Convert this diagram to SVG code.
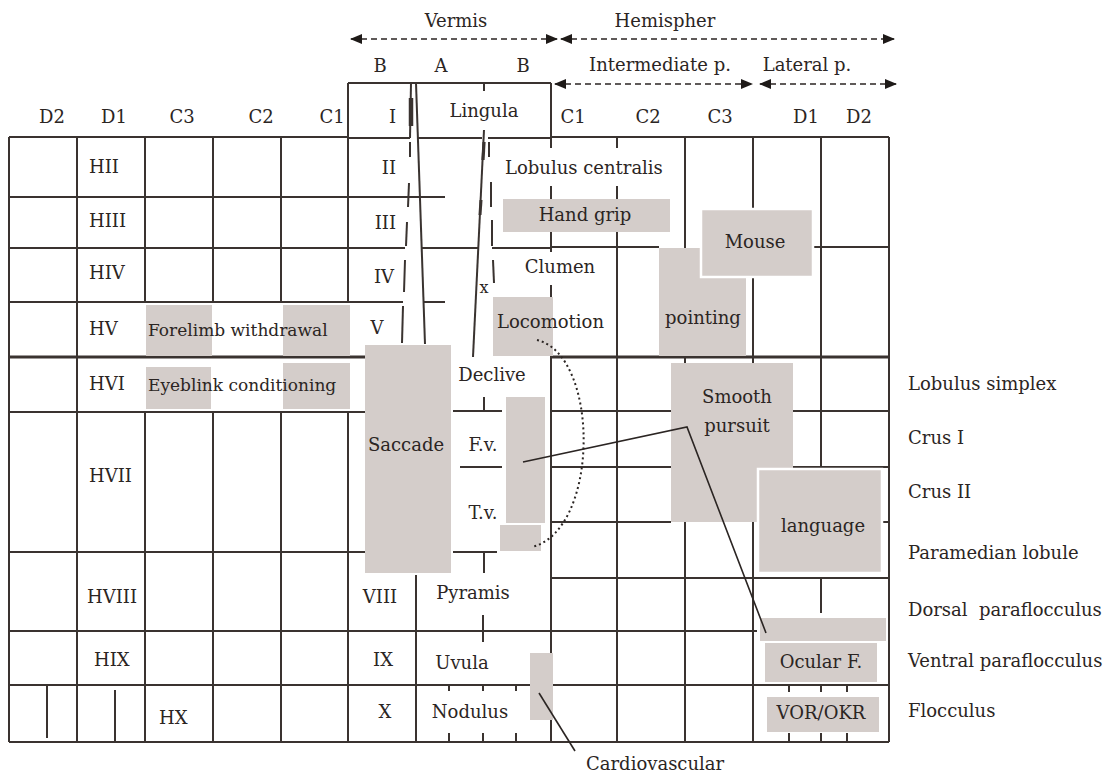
<svg xmlns="http://www.w3.org/2000/svg" width="1115" height="776" viewBox="0 0 1115 776">
<style>
text{font-family:"DejaVu Serif","Liberation Serif",serif;font-size:18px;fill:#2b2523}
.m{text-anchor:middle}
.e{text-anchor:end}
.s{font-size:17px}
.g line,.g polyline{stroke:#3a3330;stroke-width:2;fill:none}
.thick{stroke-width:3.2!important}
.box{fill:#d4cdca}
.wb{fill:#d4cdca;stroke:#fff;stroke-width:2.5}
.dash{stroke:#2b2523;stroke-width:1.6;stroke-dasharray:6 4;fill:none}
.con{stroke:#2b2523;stroke-width:1.6;fill:none}
</style>
<defs>
<marker id="ah" viewBox="0 0 12 10" refX="11" refY="5" markerWidth="12" markerHeight="10" markerUnits="userSpaceOnUse" orient="auto-start-reverse">
<path d="M0,0 L12,5 L0,10 z" fill="#1e1a18"/>
</marker>
</defs>
<rect width="1115" height="776" fill="#fff"/>

<g id="grid" class="g">
<!-- left hemisphere horizontals -->
<line x1="9" y1="137" x2="349" y2="137"/>
<line x1="9" y1="197" x2="445" y2="197"/>
<line x1="9" y1="248" x2="405" y2="248"/>
<line x1="421" y1="248" x2="478" y2="248"/>
<line x1="492" y1="248" x2="551" y2="248"/>
<line x1="9" y1="302" x2="403" y2="302"/>
<line x1="423" y1="302" x2="445" y2="302"/>
<line class="thick" x1="9" y1="357" x2="365" y2="357"/>
<line x1="9" y1="412" x2="365" y2="412"/>
<line x1="9" y1="552" x2="365" y2="552"/>
<line x1="9" y1="631" x2="757" y2="631"/>
<line x1="9" y1="685" x2="530" y2="685"/>
<line x1="9" y1="742" x2="889" y2="742"/>
<!-- left verticals -->
<line x1="9" y1="137" x2="9" y2="742"/>
<line x1="77" y1="137" x2="77" y2="742"/>
<line x1="145" y1="137" x2="145" y2="302"/>
<line x1="145" y1="412" x2="145" y2="742"/>
<line x1="213" y1="137" x2="213" y2="302"/>
<line x1="213" y1="412" x2="213" y2="742"/>
<line x1="281" y1="137" x2="281" y2="302"/>
<line x1="281" y1="412" x2="281" y2="742"/>
<line x1="47" y1="686" x2="47" y2="738"/>
<line x1="115" y1="690" x2="115" y2="742"/>
<!-- vermis -->
<line x1="348" y1="83" x2="551" y2="83"/>
<line x1="348" y1="83" x2="348" y2="303"/>
<line x1="348" y1="412" x2="348" y2="742"/>
<line x1="348" y1="138" x2="410" y2="138"/>
<line x1="417" y1="138" x2="482" y2="138"/>
<line x1="488" y1="138" x2="551" y2="138"/>
<line x1="484" y1="83" x2="484" y2="91"/>
<line x1="411" y1="83" x2="410" y2="138"/>
<line x1="411" y1="98" x2="411" y2="126" style="stroke-width:4.5"/>
<line x1="416" y1="83" x2="425" y2="344"/>
<line x1="410" y1="142" x2="410" y2="157"/>
<line x1="409" y1="183" x2="408" y2="207"/>
<line x1="407" y1="222" x2="406" y2="246"/>
<line x1="405" y1="260" x2="404" y2="292"/>
<line x1="403" y1="306" x2="402" y2="343"/>
<line x1="484" y1="130" x2="473" y2="357"/>
<line x1="484" y1="142" x2="483" y2="160" style="stroke-width:3.2"/>
<line x1="481" y1="200" x2="480" y2="215" style="stroke-width:3"/>
<line x1="489" y1="142" x2="489" y2="157"/>
<line x1="491" y1="182" x2="491" y2="207"/>
<line x1="492" y1="220" x2="492" y2="246"/>
<line x1="493" y1="260" x2="494" y2="283"/>
<line x1="453" y1="411" x2="502" y2="411"/>
<line x1="484" y1="397" x2="484" y2="411"/>
<line x1="460" y1="467" x2="502" y2="467"/>
<line x1="453" y1="552" x2="497" y2="552"/>
<line x1="484" y1="552" x2="484" y2="573"/>
<line x1="483" y1="615" x2="483" y2="642"/>
<line x1="416" y1="575" x2="416" y2="742"/>
<line x1="449" y1="685" x2="449" y2="691"/>
<line x1="483" y1="685" x2="483" y2="691"/>
<line x1="516" y1="685" x2="516" y2="691"/>
<line x1="449" y1="733" x2="449" y2="742"/>
<line x1="483" y1="733" x2="483" y2="742"/>
<line x1="516" y1="733" x2="516" y2="742"/>
<line x1="551" y1="83" x2="551" y2="148"/>
<line x1="551" y1="186" x2="551" y2="252"/>
<line x1="551" y1="285" x2="551" y2="742"/>
<!-- right part -->
<line x1="551" y1="137" x2="889" y2="137"/>
<line x1="551" y1="247" x2="659" y2="247"/>
<line x1="813" y1="247" x2="889" y2="247"/>
<line class="thick" x1="551" y1="357" x2="889" y2="357"/>
<line x1="551" y1="411" x2="671" y2="411"/>
<line x1="793" y1="411" x2="889" y2="411"/>
<line x1="551" y1="467" x2="671" y2="467"/>
<line x1="793" y1="467" x2="889" y2="467"/>
<line x1="551" y1="522" x2="671" y2="522"/>
<line x1="881" y1="522" x2="889" y2="522"/>
<line x1="551" y1="578" x2="889" y2="578"/>
<line x1="551" y1="685" x2="889" y2="685"/>
<line x1="617" y1="137" x2="617" y2="148"/>
<line x1="617" y1="186" x2="617" y2="742"/>
<line x1="685" y1="137" x2="685" y2="248"/>
<line x1="685" y1="357" x2="685" y2="742"/>
<line x1="753" y1="137" x2="753" y2="742"/>
<line x1="821" y1="137" x2="821" y2="470"/>
<line x1="821" y1="578" x2="821" y2="613"/>
<line x1="789" y1="685" x2="789" y2="692"/>
<line x1="821" y1="685" x2="821" y2="692"/>
<line x1="847" y1="685" x2="847" y2="692"/>
<line x1="789" y1="733" x2="789" y2="742"/>
<line x1="821" y1="733" x2="821" y2="742"/>
<line x1="847" y1="733" x2="847" y2="742"/>
<line x1="889" y1="137" x2="889" y2="742"/>
</g>

<g id="boxes">
<rect id="handgrip-box" class="box" x="503" y="199" width="167" height="33"/>
<rect id="pointing-box" class="box" x="659" y="248" width="87" height="108"/>
<rect id="mouse-box" class="wb" x="701" y="209" width="112" height="68"/>
<rect id="locomotion-box" class="box" x="493" y="297" width="60" height="59"/>
<rect class="box" x="146" y="305" width="66" height="51"/>
<rect class="box" x="283" y="305" width="67" height="51"/>
<rect class="box" x="146" y="367" width="65" height="42"/>
<rect class="box" x="283" y="363" width="67" height="46"/>
<rect id="saccade-box" class="box" x="365" y="345" width="86" height="228"/>
<rect id="fv-box" class="box" x="506" y="397" width="39" height="126"/>
<rect id="tv-box" class="box" x="500" y="525" width="41" height="26"/>
<rect id="pursuit-box" class="box" x="671" y="363" width="122" height="159"/>
<rect id="language-box" class="wb" x="758" y="469" width="124" height="104"/>
<rect id="dorsal-box" class="box" x="760" y="618" width="126" height="23"/>
<rect id="ocular-box" class="box" x="765" y="643" width="112" height="39"/>
<rect id="vor-box" class="box" x="767" y="697" width="112" height="35"/>
<rect id="cardio-box" class="box" x="530" y="653" width="23" height="67"/>
</g>

<g id="connectors">
<line class="dash" x1="351" y1="39" x2="557" y2="39" marker-start="url(#ah)" marker-end="url(#ah)"/>
<line class="dash" x1="561" y1="39" x2="894" y2="39" marker-start="url(#ah)" marker-end="url(#ah)"/>
<line class="dash" x1="555" y1="84" x2="752" y2="84" marker-start="url(#ah)" marker-end="url(#ah)"/>
<line class="dash" x1="760" y1="84" x2="896" y2="84" marker-start="url(#ah)" marker-end="url(#ah)"/>
<polyline class="con" points="523,462 687,427 766,633"/>
<line class="con" x1="539" y1="693" x2="575" y2="751"/>
<path d="M537,340 C600,355 600,530 532,547" stroke="#2b2523" stroke-width="2" stroke-dasharray="2 3" fill="none"/>
</g>

<g id="header">
<text class="m" x="456" y="27">Vermis</text>
<text class="m" x="665" y="27">Hemispher</text>
<text class="m" x="380" y="72">B</text>
<text class="m" x="441" y="72">A</text>
<text class="m" x="523" y="72">B</text>
<text class="m" x="660" y="71">Intermediate p.</text>
<text class="m" x="807" y="71">Lateral p.</text>
<text class="m" x="52" y="123">D2</text>
<text class="m" x="114" y="123">D1</text>
<text class="m" x="182" y="123">C3</text>
<text class="m" x="261" y="123">C2</text>
<text class="m" x="332" y="123">C1</text>
<text class="m" x="573" y="123">C1</text>
<text class="m" x="648" y="123">C2</text>
<text class="m" x="720" y="123">C3</text>
<text class="m" x="806" y="123">D1</text>
<text class="m" x="859" y="123">D2</text>
</g>

<g id="hemisphere-labels">
<text x="89" y="173">HII</text>
<text x="89" y="227">HIII</text>
<text x="89" y="279">HIV</text>
<text x="89" y="335">HV</text>
<text x="89" y="390">HVI</text>
<text x="89" y="482">HVII</text>
<text x="87" y="603">HVIII</text>
<text x="94" y="666">HIX</text>
<text x="159" y="724">HX</text>
</g>

<g id="vermis-labels">
<text class="e" x="396" y="123">I</text>
<text class="m" x="484" y="117">Lingula</text>
<text class="e" x="396" y="174">II</text>
<text class="e" x="396" y="229">III</text>
<text class="e" x="394" y="283">IV</text>
<text class="m" x="377" y="334">V</text>
<text class="m" x="380" y="603">VIII</text>
<text class="m" x="383" y="666">IX</text>
<text class="m" x="385" y="718">X</text>
<text x="505" y="174">Lobulus centralis</text>
<text class="m" x="560" y="273">Clumen</text>
<text class="m" x="484" y="293" style="font-size:16px">x</text>
<text class="m" x="492" y="381">Declive</text>
<text class="m" x="483" y="451">F.v.</text>
<text class="m" x="483" y="519">T.v.</text>
<text class="m" x="473" y="599">Pyramis</text>
<text class="m" x="462" y="669">Uvula</text>
<text class="m" x="470" y="718">Nodulus</text>
</g>

<g id="function-labels">
<text class="m" x="585" y="221">Hand grip</text>
<text x="497" y="328">Locomotion</text>
<text class="m" x="755" y="248">Mouse</text>
<text class="m" x="703" y="324">pointing</text>
<text class="s" x="148" y="336">Forelimb withdrawal</text>
<text class="s" x="148" y="391">Eyeblink conditioning</text>
<text class="m" x="406" y="451">Saccade</text>
<text class="m" x="737" y="403">Smooth</text>
<text class="m" x="737" y="432">pursuit</text>
<text class="m" x="823" y="532">language</text>
<text class="m" x="821" y="668">Ocular F.</text>
<text class="m" x="821" y="719">VOR/OKR</text>
<text x="586" y="770">Cardiovascular</text>
</g>

<g id="lobule-labels">
<text x="908" y="390">Lobulus simplex</text>
<text x="908" y="444">Crus I</text>
<text x="908" y="498">Crus II</text>
<text x="908" y="559">Paramedian lobule</text>
<text x="908" y="616" xml:space="preserve">Dorsal  paraflocculus</text>
<text x="908" y="667">Ventral paraflocculus</text>
<text x="908" y="717">Flocculus</text>
</g>
</svg>
